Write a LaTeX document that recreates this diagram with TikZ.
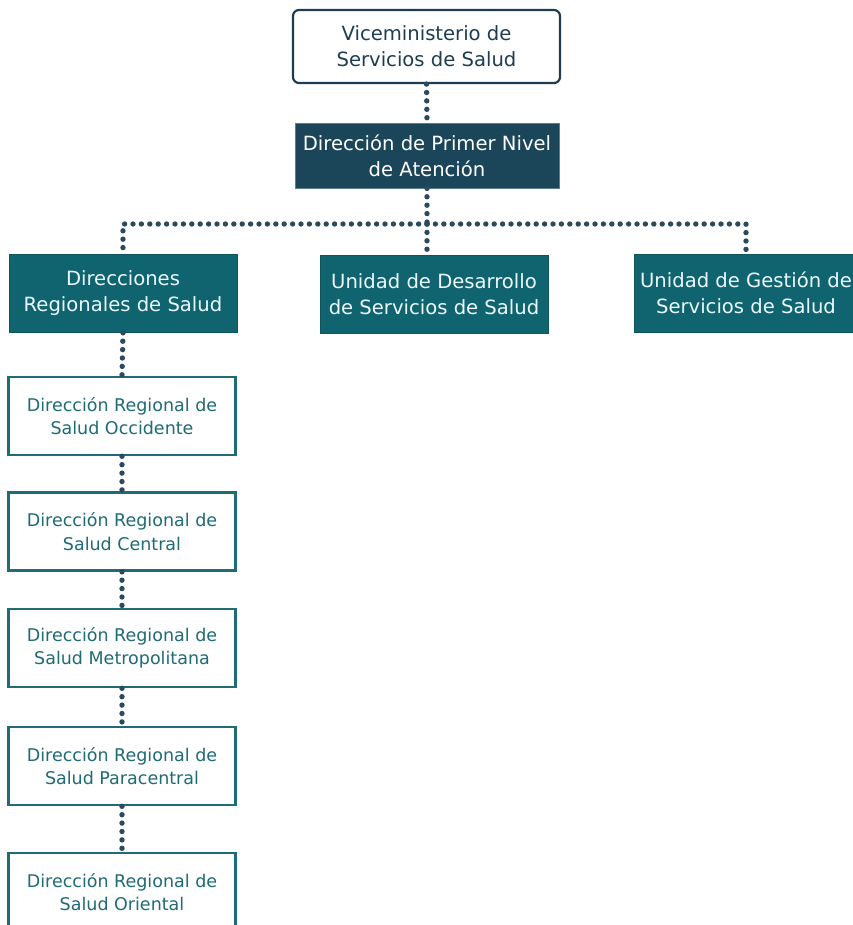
\documentclass[tikz,border=0pt]{standalone}
\usepackage{fontspec}
\setmainfont{DejaVu Sans}
\definecolor{navy}{HTML}{1B4659}
\definecolor{tealbox}{HTML}{10646F}
\definecolor{tealline}{HTML}{1F6B76}
\definecolor{dotc}{HTML}{2B4A5E}
\definecolor{topline}{HTML}{1E3D52}
\begin{document}
\begin{tikzpicture}[x=1pt,y=-1pt,
  mainfont/.style={font=\fontsize{19.6}{26}\selectfont, align=center},
  regfont/.style={font=\fontsize{17.5}{23.5}\selectfont, align=center},
  topbox/.style={mainfont, draw=topline, line width=2.2pt, rounded corners=6pt, fill=white, text=topline, minimum width=267pt, minimum height=73pt, inner sep=0pt},
  darkbox/.style={mainfont, fill=navy, draw=navy!70!white, line width=0.8pt, text=white, minimum width=264pt, minimum height=65pt, inner sep=0pt},
  tealb/.style={mainfont, fill=tealbox, draw=tealbox!85!black, line width=0.6pt, text=white!92!cyan, minimum width=228pt, minimum height=78pt, inner sep=0pt},
  regbox/.style={regfont, draw=tealline, line width=2.6pt, fill=white, text=tealline, minimum width=227pt, minimum height=78pt, inner sep=0pt},
  dots/.style={draw=dotc, line width=5.4pt, line cap=round, dash pattern=on 0pt off 8.4pt}
]
\useasboundingbox (0,0) rectangle (852,925);

\node[topbox] (vice) at (426.5,46.5) {Viceministerio de\\Servicios de Salud};
\node[darkbox] (dpna) at (427,155.5) {Dirección de Primer Nivel\\de Atención};

\node[tealb] (drs) at (123,293.5) {Direcciones\\Regionales de Salud};
\node[tealb] (uds) at (434,294) {Unidad de Desarrollo\\de Servicios de Salud};
\node[tealb, minimum width=224pt] (ugs) at (746,293) {Unidad de Gestión de\\Servicios de Salud};

\node[regbox] (r1) at (122,416) {Dirección Regional de\\Salud Occidente};
\node[regbox] (r2) at (122,531.5) {Dirección Regional de\\Salud Central};
\node[regbox] (r3) at (122,648) {Dirección Regional de\\Salud Metropolitana};
\node[regbox] (r4) at (122,766) {Dirección Regional de\\Salud Paracentral};
\node[regbox] (r5) at (122,892) {Dirección Regional de\\Salud Oriental};

\coordinate (j) at (427,224);

\draw[dots] (vice.south) -- (dpna.north);
\draw[dots] (dpna.south) -- (j);
\draw[dots] (j) -- (j |- uds.north);
\draw[dots] (j) -| (drs.north);
\draw[dots] (j) -| (ugs.north);
\draw[dots] (drs.south) -- (r1.north);
\draw[dots] (r1.south) -- (r2.north);
\draw[dots] (r2.south) -- (r3.north);
\draw[dots] (r3.south) -- (r4.north);
\draw[dots] (r4.south) -- (r5.north);
\end{tikzpicture}
\end{document}
